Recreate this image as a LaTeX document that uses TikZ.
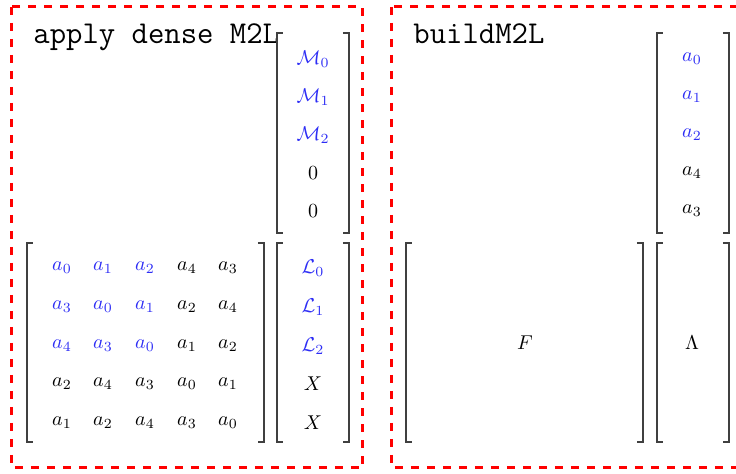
\documentclass[tikz,border=0pt]{standalone}
\definecolor{myblue}{RGB}{45,45,245}
\newcommand\brkts[4]{%
  \draw[brk] ({#1+6},#3) -- (#1,#3) -- (#1,#4) -- ({#1+6},#4);
  \draw[brk] ({#2-6},#3) -- (#2,#3) -- (#2,#4) -- ({#2-6},#4);}
\begin{document}
\begin{tikzpicture}[x=0.5pt,y=-0.5pt,
  ent/.style={inner sep=0pt},
  hl/.style={ent,text=myblue},
  brk/.style={draw=black!75, line width=0.6pt},
  frame/.style={draw=red, line width=1.5pt, dash pattern=on 4pt off 4pt},
  ttl/.style={anchor=base west, inner sep=0pt, font=\fontsize{15.9}{18}\selectfont\ttfamily}]
\useasboundingbox (0,0) rectangle (736,474);
\clip (0,0) rectangle (736,474);
% frames
\draw[frame] (12,7) rectangle (363,468);
\draw[frame] (392,7) rectangle (744,468);
% titles
\node[ttl] (t1) at (33,44) {apply dense M2L};
\node[ttl] (t2) at (413,44) {buildM2L};
% left: M vector
\brkts{277}{349}{33}{233}
\node[hl]  (M0) at (313,59)  {$\mathcal{M}_0$};
\node[hl]  (M1) at (313,97)  {$\mathcal{M}_1$};
\node[hl]  (M2) at (313,135) {$\mathcal{M}_2$};
\node[ent] (M3) at (313,173) {$0$};
\node[ent] (M4) at (313,211) {$0$};
% left: dense matrix
\brkts{27}{264}{243}{442}
\node[hl]  (A00) at (62,268) {$a_0$};
\node[hl]  (A01) at (103,268) {$a_1$};
\node[hl]  (A02) at (145,268) {$a_2$};
\node[ent] (A03) at (187,268) {$a_4$};
\node[ent] (A04) at (228,268) {$a_3$};
\node[hl]  (A10) at (62,307) {$a_3$};
\node[hl]  (A11) at (103,307) {$a_0$};
\node[hl]  (A12) at (145,307) {$a_1$};
\node[ent] (A13) at (187,307) {$a_2$};
\node[ent] (A14) at (228,307) {$a_4$};
\node[hl]  (A20) at (62,346) {$a_4$};
\node[hl]  (A21) at (103,346) {$a_3$};
\node[hl]  (A22) at (145,346) {$a_0$};
\node[ent] (A23) at (187,346) {$a_1$};
\node[ent] (A24) at (228,346) {$a_2$};
\node[ent] (A30) at (62,384) {$a_2$};
\node[ent] (A31) at (103,384) {$a_4$};
\node[ent] (A32) at (145,384) {$a_3$};
\node[ent] (A33) at (187,384) {$a_0$};
\node[ent] (A34) at (228,384) {$a_1$};
\node[ent] (A40) at (62,423) {$a_1$};
\node[ent] (A41) at (103,423) {$a_2$};
\node[ent] (A42) at (145,423) {$a_4$};
\node[ent] (A43) at (187,423) {$a_3$};
\node[ent] (A44) at (228,423) {$a_0$};
% left: L vector
\brkts{277}{349}{243}{442}
\node[hl]  (L0) at (313,268) {$\mathcal{L}_0$};
\node[hl]  (L1) at (313,307) {$\mathcal{L}_1$};
\node[hl]  (L2) at (313,346) {$\mathcal{L}_2$};
\node[ent] (L3) at (313,384) {$X$};
\node[ent] (L4) at (313,423) {$X$};
% right: a vector
\brkts{657}{729}{33}{233}
\node[hl]  (B0) at (692,59)  {$a_0$};
\node[hl]  (B1) at (692,97)  {$a_1$};
\node[hl]  (B2) at (692,135) {$a_2$};
\node[ent] (B3) at (692,173) {$a_4$};
\node[ent] (B4) at (692,211) {$a_3$};
% right: F and Lambda
\brkts{406}{643}{243}{442}
\node[ent] (F) at (525,343) {$F$};
\brkts{657}{729}{243}{442}
\node[ent] (Lam) at (692,343) {$\Lambda$};
\end{tikzpicture}
\end{document}
